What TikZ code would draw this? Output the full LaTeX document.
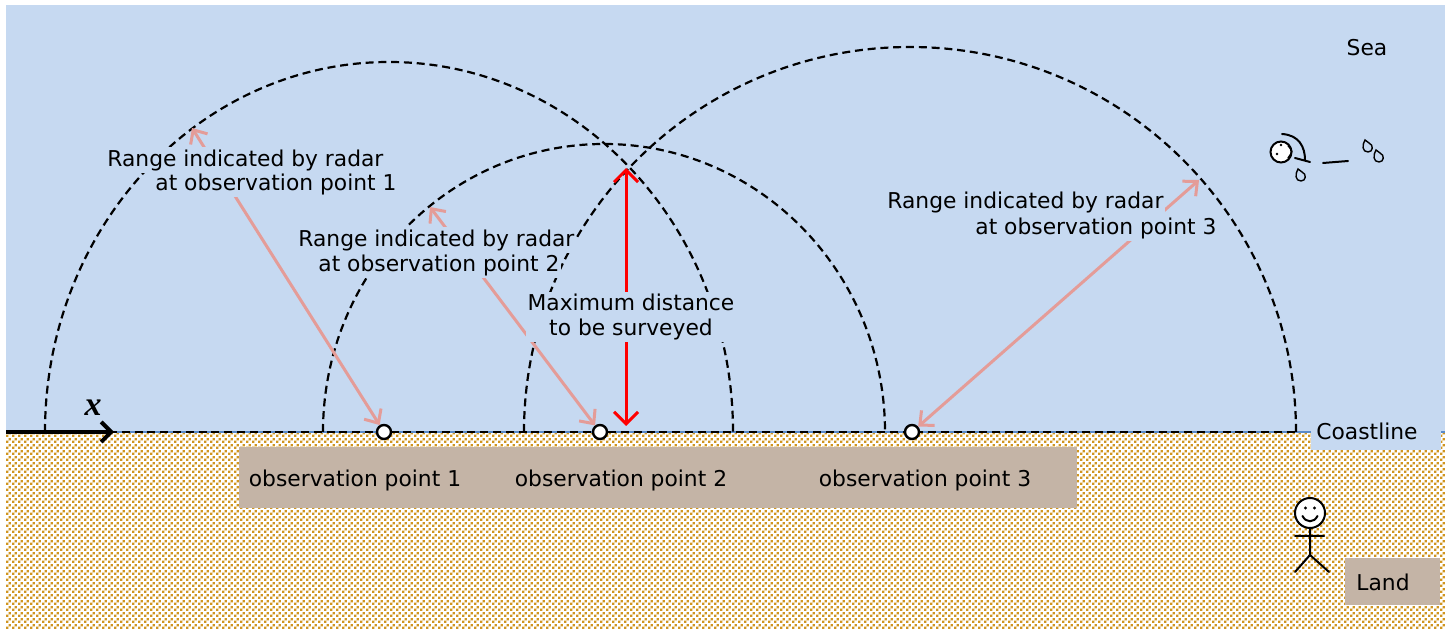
\documentclass[tikz,border=0pt]{standalone}
\usepackage{fontspec}
\setmainfont{DejaVu Sans}
\newfontfamily\axisfont{Liberation Serif}
\usetikzlibrary{arrows.meta,patterns}
\definecolor{sea}{HTML}{C6D9F1}
\definecolor{sand}{HTML}{D0951F}
\definecolor{taupe}{HTML}{C4B4A6}
\definecolor{rangepink}{HTML}{E49C98}
\definecolor{shoreblue}{HTML}{5B8BC9}
\pgfdeclarepatternformonly{sandcheck}{\pgfpointorigin}{\pgfqpoint{3pt}{3pt}}{\pgfqpoint{3pt}{3pt}}{%
  \pgfpathrectangle{\pgfpointorigin}{\pgfqpoint{1.4pt}{1.4pt}}%
  \pgfpathrectangle{\pgfqpoint{1.5pt}{1.5pt}}{\pgfqpoint{1.4pt}{1.4pt}}%
  \pgfusepath{fill}}
\tikzset{
    range arc/.style={dash pattern=on 4pt off 2.4pt, line width=1.1pt, black},
    range arrow/.style={<->, rangepink, line width=1.5pt},
    survey arrow/.style={<->, red, line width=1.5pt, >={Straight Barb[length=6pt,width=12pt]}},
    axis arrow/.style={->, black, line width=2pt, >={Straight Barb[length=5pt,width=10pt]}},
    range label/.style={fill=sea, inner sep=1pt, anchor=west},
    obs point/.style={circle, draw, black, fill=white, line width=1.2pt, inner sep=0pt, minimum size=7pt},
    figure line/.style={black, line width=1pt, line cap=round},
    drop/.pic={\draw[figure line, line width=0.7pt] (-3,-7) .. controls (-6,-2) and (-6,5) .. (0,5)
        .. controls (5,5) and (6,-2) .. (1,-4) .. controls (-1,-5) .. (-3,-7) -- cycle;}
}
\begin{document}
\begin{tikzpicture}[x=0.5pt, y=-0.5pt, >={Straight Barb[length=5.5pt,width=10pt]},
    font=\fontsize{10.9}{12.4}\selectfont]
\useasboundingbox (0,0) rectangle (1451,635);
\fill[sea] (6,5) rectangle (1445,432);
\fill[white] (6,432) rectangle (1445,630);
\fill[pattern=sandcheck, pattern color=sand] (6,432) rectangle (1445,630);
\draw[shoreblue, line width=0.8pt] (6,432) -- (1445,432);
\fill[sea] (1311,418) rectangle (1441,450);
\fill[taupe] (239,447) rectangle (1077,508);
\fill[taupe] (1345,558) rectangle (1440,605);

\draw[range arc] (45,432) -- (1297,432);
\draw[range arc] (45,432) arc[start angle=180, end angle=360, x radius=344, y radius=370];
\draw[range arc] (323,432) arc[start angle=180, end angle=360, x radius=281, y radius=288];
\draw[range arc] (524,432) arc[start angle=180, end angle=360, x radius=386, y radius=385];

\node[obs point] (obs1) at (384,432) {};
\node[obs point] (obs2) at (600,432) {};
\node[obs point] (obs3) at (912,432) {};
\coordinate (reach1) at (192,128);
\coordinate (reach2) at (430,207);
\coordinate (reach3) at (1199,180);
\coordinate (reach top) at (626,168);
\coordinate (reach foot) at (626,426);
\coordinate (axis start) at (6,432);
\coordinate (axis end) at (114,432);

\draw[range arrow] (reach1) -- (obs1);
\draw[range arrow] (reach2) -- (obs2);
\draw[range arrow] (reach3) -- (obs3);
\draw[survey arrow] (reach top) -- (reach foot);
\draw[axis arrow] (axis start) -- (axis end);

\node[range label] (label1 top) at (105,160) {Range indicated by radar};
\node[range label] (label1 bottom) at (153,184) {at observation point 1};
\node[range label] (label2 top) at (296,240) {Range indicated by radar};
\node[range label] (label2 bottom) at (316,265) {at observation point 2};
\node[range label] (label3 top) at (885,202) {Range indicated by radar};
\node[range label] (label3 bottom) at (973,228) {at observation point 3};
\node[fill=sea, inner sep=1pt, align=center] (survey label) at (631,317) {Maximum distance\\to be surveyed};

\node (name1) at (355,480) {observation point 1};
\node (name2) at (621,480) {observation point 2};
\node (name3) at (925,480) {observation point 3};
\node (sea label) at (1367,48) {Sea};
\node (coast label) at (1367,431) {Coastline};
\node (land label) at (1383,582) {Land};
\node[font={\fontsize{17}{17}\axisfont\bfseries\itshape}] (x label) at (93,408) {x};

\draw[figure line, fill=white] (1310,513) circle[radius=15];
\fill (1305.5,508) circle[radius=1.7] (1314.5,508) circle[radius=1.7];
\draw[figure line] (1302.5,516) .. controls (1306,523) and (1314,523) .. (1317.5,516);
\draw[figure line] (1310,528) -- (1310,555) (1295,536) -- (1324,536)
    (1295,572) -- (1310,555) -- (1329,572);

\draw[figure line, fill=white] (1281,152) circle[radius=10.5];
\fill (1281,145) circle[radius=1.4] (1277,154) circle[radius=1.4];
\draw[figure line, line width=0.7pt] (1288,146) .. controls (1293,151) .. (1288,158);
\draw[figure line] (1282,134) .. controls (1299,135) and (1305,147) .. (1305,160);
\draw[figure line] (1295,158) -- (1310,162);
\draw[figure line] (1323,163) -- (1348,161);
\pic at (1301,176) {drop};
\pic at (1368,147) {drop};
\pic at (1379,157) {drop};
\end{tikzpicture}
\end{document}
